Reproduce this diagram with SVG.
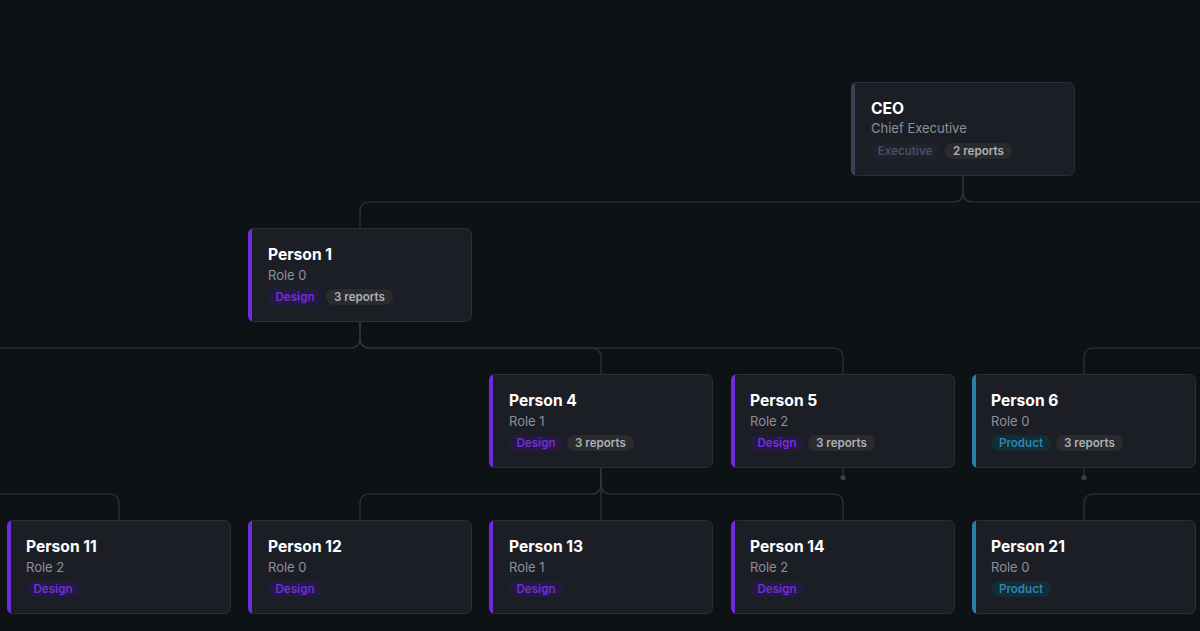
<svg xmlns="http://www.w3.org/2000/svg" width="1200" height="631" viewBox="0 0 1200 631">
<style>
.bg{fill:#0d1315}
.card{fill:#1c1e26;stroke:#2c2f3a;stroke-width:1}
.bar{stroke:none}
.exec{fill:#3a4255}
.design{fill:#6d2bdc}
.product{fill:#2b7fa5}
.name{font-family:Inter,"Liberation Sans",sans-serif;font-size:15.6px;font-weight:700;fill:#ffffff}
.role{font-family:Inter,"Liberation Sans",sans-serif;font-size:13px;fill:#8e9099}
.tag{font-family:Inter,"Liberation Sans",sans-serif;font-size:11.6px;font-weight:600;text-anchor:middle}
.pill-rep{fill:#2a2b2f}
.t-rep{fill:#aeb0b5}
.pill-design{fill:#25193f}
.t-design{fill:#6f2fdc}
.pill-product{fill:#132c36}
.t-product{fill:#2c86ae}
.pill-exec{fill:#1f222a}
.t-exec{fill:#475066}
.edge{fill:none;stroke:#2f3541;stroke-width:1.2}
.dot{fill:#3a3f4a}
</style>
<defs>
<clipPath id="cardclip"><rect x="0" y="0" width="224" height="94" rx="6"/></clipPath>
</defs>
<rect class="bg" x="0" y="0" width="1200" height="631"/>

<g id="connectors">
<path class="edge" d="M963,176 V192 Q963,202 953,202 H370 Q360,202 360,212 V228"/>
<path class="edge" d="M963,176 V192 Q963,202 973,202 H1210"/>
<path class="edge" d="M360,322 V338 Q360,348 350,348 H-10"/>
<path class="edge" d="M360,322 V338 Q360,348 370,348 H591 Q601,348 601,358 V374"/>
<path class="edge" d="M360,322 V338 Q360,348 370,348 H833 Q843,348 843,358 V374"/>
<path class="edge" d="M1210,348 H1094 Q1084,348 1084,358 V374"/>
<path class="edge" d="M601,468 V484 Q601,494 591,494 H370 Q360,494 360,504 V520"/>
<path class="edge" d="M601,468 V520"/>
<path class="edge" d="M601,468 V484 Q601,494 611,494 H833 Q843,494 843,504 V520"/>
<path class="edge" d="M-10,494 H109 Q119,494 119,504 V520"/>
<path class="edge" d="M1210,494 H1094 Q1084,494 1084,504 V520"/>
<path class="edge" d="M843,468 V477"/>
<circle class="dot" cx="843" cy="477.5" r="2.6"/>
<path class="edge" d="M1084,468 V477"/>
<circle class="dot" cx="1084" cy="477.5" r="2.6"/>
</g>

<g id="node-ceo" transform="translate(851,82)">
<rect class="card" x="0.5" y="0.5" width="223" height="93" rx="6"/>
<rect class="bar exec" width="4" height="94" clip-path="url(#cardclip)"/>
<text class="name" x="20" y="32">CEO</text>
<text class="role" x="20" y="51">Chief Executive</text>
<rect class="pill-exec" x="20" y="61" width="68" height="16" rx="8"/>
<text class="tag t-exec" x="54" y="73">Executive</text>
<rect class="pill-rep" x="94" y="61" width="67" height="16" rx="8"/>
<text class="tag t-rep" x="127.5" y="73">2 reports</text>
</g>

<g id="node-p1" transform="translate(248,228)">
<rect class="card" x="0.5" y="0.5" width="223" height="93" rx="6"/>
<rect class="bar design" width="4" height="94" clip-path="url(#cardclip)"/>
<text class="name" x="20" y="32">Person 1</text>
<text class="role" x="20" y="52">Role 0</text>
<rect class="pill-design" x="20" y="61" width="54" height="16" rx="8"/>
<text class="tag t-design" x="47" y="73">Design</text>
<rect class="pill-rep" x="78" y="61" width="67" height="16" rx="8"/>
<text class="tag t-rep" x="111.5" y="73">3 reports</text>
</g>

<g id="node-p4" transform="translate(489,374)">
<rect class="card" x="0.5" y="0.5" width="223" height="93" rx="6"/>
<rect class="bar design" width="4" height="94" clip-path="url(#cardclip)"/>
<text class="name" x="20" y="32">Person 4</text>
<text class="role" x="20" y="52">Role 1</text>
<rect class="pill-design" x="20" y="61" width="54" height="16" rx="8"/>
<text class="tag t-design" x="47" y="73">Design</text>
<rect class="pill-rep" x="78" y="61" width="67" height="16" rx="8"/>
<text class="tag t-rep" x="111.5" y="73">3 reports</text>
</g>

<g id="node-p5" transform="translate(731,374)">
<rect class="card" x="0.5" y="0.5" width="223" height="93" rx="6"/>
<rect class="bar design" width="4" height="94" clip-path="url(#cardclip)"/>
<text class="name" x="19" y="32">Person 5</text>
<text class="role" x="19" y="52">Role 2</text>
<rect class="pill-design" x="19" y="61" width="54" height="16" rx="8"/>
<text class="tag t-design" x="46" y="73">Design</text>
<rect class="pill-rep" x="77" y="61" width="67" height="16" rx="8"/>
<text class="tag t-rep" x="110.5" y="73">3 reports</text>
</g>

<g id="node-p6" transform="translate(972,374)">
<rect class="card" x="0.5" y="0.5" width="223" height="93" rx="6"/>
<rect class="bar product" width="4" height="94" clip-path="url(#cardclip)"/>
<text class="name" x="19" y="32">Person 6</text>
<text class="role" x="19" y="52">Role 0</text>
<rect class="pill-product" x="19" y="61" width="60" height="16" rx="8"/>
<text class="tag t-product" x="49" y="73">Product</text>
<rect class="pill-rep" x="84" y="61" width="67" height="16" rx="8"/>
<text class="tag t-rep" x="117.5" y="73">3 reports</text>
</g>

<g id="node-p11" transform="translate(7,520)">
<rect class="card" x="0.5" y="0.5" width="223" height="93" rx="6"/>
<rect class="bar design" width="4" height="94" clip-path="url(#cardclip)"/>
<text class="name" x="19" y="32">Person 11</text>
<text class="role" x="19" y="52">Role 2</text>
<rect class="pill-design" x="19" y="61" width="54" height="16" rx="8"/>
<text class="tag t-design" x="46" y="73">Design</text>
</g>

<g id="node-p12" transform="translate(248,520)">
<rect class="card" x="0.5" y="0.5" width="223" height="93" rx="6"/>
<rect class="bar design" width="4" height="94" clip-path="url(#cardclip)"/>
<text class="name" x="20" y="32">Person 12</text>
<text class="role" x="20" y="52">Role 0</text>
<rect class="pill-design" x="20" y="61" width="54" height="16" rx="8"/>
<text class="tag t-design" x="47" y="73">Design</text>
</g>

<g id="node-p13" transform="translate(489,520)">
<rect class="card" x="0.5" y="0.5" width="223" height="93" rx="6"/>
<rect class="bar design" width="4" height="94" clip-path="url(#cardclip)"/>
<text class="name" x="20" y="32">Person 13</text>
<text class="role" x="20" y="52">Role 1</text>
<rect class="pill-design" x="20" y="61" width="54" height="16" rx="8"/>
<text class="tag t-design" x="47" y="73">Design</text>
</g>

<g id="node-p14" transform="translate(731,520)">
<rect class="card" x="0.5" y="0.5" width="223" height="93" rx="6"/>
<rect class="bar design" width="4" height="94" clip-path="url(#cardclip)"/>
<text class="name" x="19" y="32">Person 14</text>
<text class="role" x="19" y="52">Role 2</text>
<rect class="pill-design" x="19" y="61" width="54" height="16" rx="8"/>
<text class="tag t-design" x="46" y="73">Design</text>
</g>

<g id="node-p21" transform="translate(972,520)">
<rect class="card" x="0.5" y="0.5" width="223" height="93" rx="6"/>
<rect class="bar product" width="4" height="94" clip-path="url(#cardclip)"/>
<text class="name" x="19" y="32">Person 21</text>
<text class="role" x="19" y="52">Role 0</text>
<rect class="pill-product" x="19" y="61" width="60" height="16" rx="8"/>
<text class="tag t-product" x="49" y="73">Product</text>
</g>
</svg>
